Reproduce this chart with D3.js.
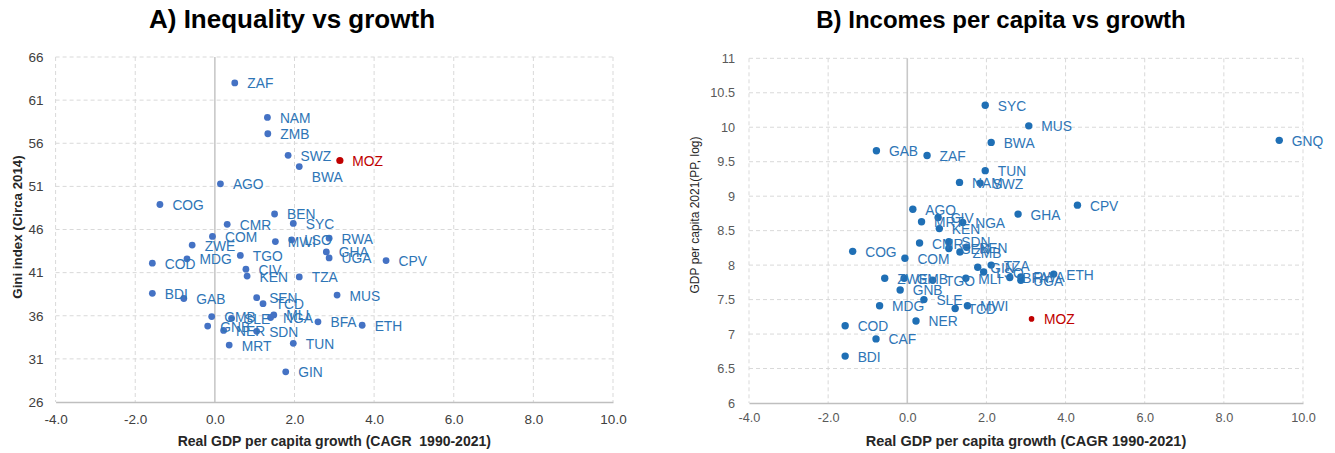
<!DOCTYPE html>
<html>
<head>
<meta charset="utf-8">
<script src="https://cdn.jsdelivr.net/npm/d3@7"></script>
<style>
  html, body { margin: 0; padding: 0; background: #ffffff; }
  svg { display: block; font-family: "Liberation Sans", Arial, sans-serif; }
</style>
</head>
<body>
<svg id="chart" width="1335" height="453"></svg>
<script>
// Country codes (ISO3)
const countries = ["ZAF","NAM","ZMB","SWZ","BWA","MOZ","AGO","COG","BEN","CMR","SYC","COM","MWI","LSO","RWA","ZWE","GHA","UGA","TGO","MDG","COD","CPV","CIV","KEN","TZA","BDI","GAB","MUS","SEN","TCD","GMB","GNB","SLE","NER","SDN","NGA","MLI","MRT","TUN","GIN","BFA","ETH","GNQ","CAF"];

// Real GDP per capita growth, CAGR 1990-2021 (%)
const growth = [0.50,1.32,1.33,1.84,2.12,3.14,0.14,-1.38,1.50,0.31,1.97,-0.06,1.52,1.93,2.87,-0.57,2.80,2.87,0.64,-0.70,-1.57,4.30,0.78,0.81,2.12,-1.57,-0.78,3.07,1.05,1.21,-0.08,-0.18,0.42,0.22,1.05,1.40,1.48,0.36,1.97,1.78,2.59,3.70,9.40,-0.79];

// Gini index, circa 2014 (null where not available)
const gini = [63.0,59.0,57.1,54.6,53.3,54.0,51.3,48.9,47.8,46.6,46.7,45.2,44.6,44.8,45.0,44.2,43.4,42.7,43.0,42.6,42.1,42.4,41.4,40.6,40.5,38.6,38.0,38.4,38.1,37.4,35.9,34.8,35.7,34.3,34.2,35.8,36.1,32.6,32.8,29.5,35.3,34.9,null,null];

// GDP per capita 2021 (PPP, natural log)
const gdpLog = [9.59,9.20,8.19,9.19,9.78,7.22,8.81,8.20,8.26,8.32,10.32,8.10,7.41,7.90,7.83,7.81,8.74,7.78,7.78,7.41,7.12,8.87,8.69,8.53,8.00,6.68,9.66,10.02,8.24,7.37,7.81,7.64,7.50,7.19,8.34,8.62,7.81,8.63,9.37,7.97,7.82,7.87,9.81,6.93];

// Highlighted country
const highlight = "MOZ";

// Tick values
const xTicks = [-4, -2, 0, 2, 4, 6, 8, 10];
const giniTicks = [26, 31, 36, 41, 46, 51, 56, 61, 66];
const gdpTicks = [6, 6.5, 7, 7.5, 8, 8.5, 9, 9.5, 10, 10.5, 11];

const rows = countries.map((c, i) => ({ code: c, growth: growth[i], gini: gini[i], gdp: gdpLog[i] }));

const svg = d3.select("#chart");
const fmtX = d => d3.format(".1f")(d).replace("\u2212", "-");

function panel(opts) {
  const x = d3.scaleLinear().domain([-4, 10]).range(opts.xRange);
  const y = d3.scaleLinear().domain(opts.yDomain).range(opts.yRange);
  const g = svg.append("g");

  // horizontal dashed grid
  g.append("g").selectAll("line").data(opts.yTicks.filter(t => t !== opts.yDomain[0])).join("line")
    .attr("x1", opts.xRange[0]).attr("x2", opts.xRange[1])
    .attr("y1", d => y(d)).attr("y2", d => y(d))
    .attr("stroke", "#d9d9d9").attr("stroke-width", 1).attr("stroke-dasharray", "4,3");

  // vertical dashed grid
  g.append("g").selectAll("line").data(xTicks.filter(t => t !== 0)).join("line")
    .attr("x1", d => x(d)).attr("x2", d => x(d))
    .attr("y1", opts.yRange[1]).attr("y2", opts.yRange[0])
    .attr("stroke", "#d9d9d9").attr("stroke-width", 1).attr("stroke-dasharray", "4,3");

  // zero line
  g.append("line")
    .attr("x1", x(0)).attr("x2", x(0))
    .attr("y1", opts.yRange[1]).attr("y2", opts.yRange[0])
    .attr("stroke", "#c8c8c8").attr("stroke-width", 1.6);

  // bottom axis
  const xAxis = g.append("g").attr("transform", `translate(0,${opts.yRange[0]})`)
    .call(d3.axisBottom(x).tickValues(xTicks).tickFormat(fmtX).tickSize(0).tickPadding(opts.xTickPad));
  xAxis.select(".domain").attr("stroke", "#bfbfbf").attr("stroke-width", 1.3);
  xAxis.selectAll("text").attr("font-size", opts.tickSize).attr("fill", opts.tickColor)
    .attr("font-family", "Liberation Sans, Arial, sans-serif");

  // left axis (labels only)
  const yAxis = g.append("g").attr("transform", `translate(${opts.xRange[0]},0)`)
    .call(d3.axisLeft(y).tickValues(opts.yTicks).tickFormat(opts.yFmt).tickSize(0).tickPadding(opts.yTickPad));
  yAxis.select(".domain").remove();
  yAxis.selectAll("text").attr("font-size", opts.tickSize).attr("fill", opts.tickColor)
    .attr("font-family", "Liberation Sans, Arial, sans-serif");

  // points
  const pts = rows.filter(r => r[opts.field] != null);
  g.append("g").selectAll("circle").data(pts).join("circle")
    .attr("cx", d => x(d.growth)).attr("cy", d => y(d[opts.field]))
    .attr("r", d => d.code === highlight ? opts.rHi : opts.r)
    .attr("fill", d => d.code === highlight ? "#c00000" : opts.dotColor);

  // data labels
  g.append("g").selectAll("text").data(pts).join("text")
    .attr("x", d => x(d.growth) + 12.5)
    .attr("y", d => y(d[opts.field]) + 1 + ((opts.labelShift[d.code]) || 0))
    .attr("dominant-baseline", "central")
    .attr("font-size", opts.labelSize)
    .attr("fill", d => d.code === highlight ? "#c00000" : opts.labelColor)
    .text(d => d.code);

  // title
  svg.append("text").attr("x", opts.titleX).attr("y", 28).attr("text-anchor", "middle")
    .attr("font-size", opts.titleSize).attr("font-weight", "bold").attr("fill", "#000")
    .text(opts.title);

  // x-axis title
  svg.append("text").attr("x", (opts.xRange[0] + opts.xRange[1]) / 2).attr("y", 446)
    .attr("text-anchor", "middle").attr("font-size", opts.xTitleSize).attr("font-weight", "bold")
    .attr("fill", "#262626").style("white-space", "pre")
    .text(opts.xTitle);

  // y-axis title
  svg.append("text").attr("transform", `translate(${opts.yTitleX},${opts.yTitleY}) rotate(-90)`)
    .attr("text-anchor", "middle").attr("font-size", opts.yTitleSize)
    .attr("font-weight", opts.yTitleWeight).attr("fill", "#262626")
    .text(opts.yTitle);
}

panel({
  xRange: [55.6, 613], yRange: [402, 57], yDomain: [26, 66], yTicks: giniTicks,
  field: "gini", yFmt: d3.format("d"),
  tickSize: "13.5px", tickColor: "#404040", xTickPad: 12, yTickPad: 12,
  r: 3.4, rHi: 3.6, dotColor: "#4472c4", labelColor: "#2e75b6", labelSize: "13.8px",
  labelShift: { BWA: 10 },
  title: "A) Inequality vs growth", titleX: 292, titleSize: "26px",
  xTitle: "Real GDP per capita growth (CAGR  1990-2021)", xTitleSize: "14px",
  yTitle: "Gini index (Circa 2014)", yTitleX: 22, yTitleY: 227, yTitleSize: "13.3px", yTitleWeight: "bold"
});

panel({
  xRange: [749, 1303], yRange: [403, 58.3], yDomain: [6, 11], yTicks: gdpTicks,
  field: "gdp", yFmt: d => String(d),
  tickSize: "12.7px", tickColor: "#595959", xTickPad: 10, yTickPad: 14,
  r: 3.7, rHi: 2.8, dotColor: "#1f6fb5", labelColor: "#2e75b6", labelSize: "13.8px",
  labelShift: {},
  title: "B) Incomes per capita vs growth", titleX: 1001, titleSize: "24px",
  xTitle: "Real GDP per capita growth (CAGR 1990-2021)", xTitleSize: "14.5px",
  yTitle: "GDP per capita 2021(PP, log)", yTitleX: 699, yTitleY: 215, yTitleSize: "12px", yTitleWeight: "normal"
});
</script>
</body>
</html>
